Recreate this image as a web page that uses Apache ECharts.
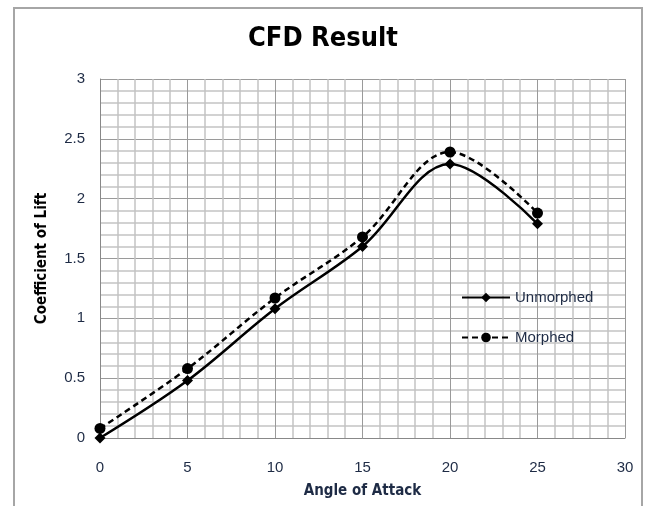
<!DOCTYPE html>
<html>
<head>
<meta charset="utf-8">
<script src="https://cdn.jsdelivr.net/npm/echarts@6/dist/echarts.min.js"></script>
<style>
  html, body { margin: 0; padding: 0; background: #fff; }
  #chart { width: 646px; height: 506px; }
</style>
</head>
<body>
<div id="chart"></div>
<script>
const angles = [0, 5, 10, 15, 20, 25]
const unmorphed = [0, 0.48, 1.08, 1.6, 2.29, 1.79]
const morphed = [0.08, 0.58, 1.17, 1.68, 2.39, 1.88]

const font = '"Liberation Sans Narrow", "Liberation Sans", sans-serif'
const condensed = '"DejaVu Sans Condensed", "Liberation Sans Narrow", sans-serif'
const labelColor = '#1e2b45'

const chart = echarts.init(document.getElementById('chart'))

chart.setOption({
  animation: false,
  textStyle: { fontFamily: font },
  title: {
    text: 'CFD Result',
    left: 'center',
    top: 20,
    textStyle: { fontSize: 27, fontWeight: 'bold', color: '#000', fontFamily: condensed }
  },
  graphic: [
    {
      type: 'polyline',
      shape: { points: [[14, 506], [14, 8], [642, 8], [642, 506]] },
      style: { stroke: '#a6a6a6', lineWidth: 2, fill: null },
      silent: true
    }
  ],
  grid: { left: 100, right: 21, top: 79, bottom: 68 },
  legend: {
    orient: 'vertical',
    left: 456,
    top: 285,
    itemGap: 25,
    itemWidth: 48,
    itemHeight: 12,
    textStyle: { fontSize: 15, color: labelColor, fontFamily: font },
    data: ['Unmorphed', 'Morphed']
  },
  xAxis: {
    type: 'value',
    min: 0,
    max: 30,
    interval: 5,
    name: 'Angle of Attack',
    nameLocation: 'middle',
    nameGap: 46,
    nameTextStyle: { fontSize: 15, fontWeight: 'bold', color: labelColor, fontFamily: condensed },
    axisLine: { show: true, lineStyle: { color: '#888', width: 1 } },
    axisTick: { show: false },
    axisLabel: { fontSize: 15, color: labelColor, margin: 22 },
    splitLine: { show: true, lineStyle: { color: '#9a9a9a', width: 1 } },
    minorTick: { show: false, splitNumber: 5 },
    minorSplitLine: { show: true, lineStyle: { color: '#c4c4c4', width: 1.5 } }
  },
  yAxis: {
    type: 'value',
    min: 0,
    max: 3,
    interval: 0.5,
    name: 'Coefficient of Lift',
    nameLocation: 'middle',
    nameGap: 50,
    nameTextStyle: { fontSize: 15, fontWeight: 'bold', color: '#000', fontFamily: condensed },
    axisLine: { show: true, lineStyle: { color: '#888', width: 1 } },
    axisTick: { show: false },
    axisLabel: { fontSize: 15, color: labelColor, margin: 15 },
    splitLine: { show: true, lineStyle: { color: '#9a9a9a', width: 1 } },
    minorTick: { show: false, splitNumber: 5 },
    minorSplitLine: { show: true, lineStyle: { color: '#c4c4c4', width: 1.5 } }
  },
  series: [
    {
      name: 'Unmorphed',
      type: 'line',
      smooth: 0.35,
      data: angles.map((a, i) => [a, unmorphed[i]]),
      symbol: 'diamond',
      symbolSize: 11,
      lineStyle: { color: '#000', width: 2.5, type: 'solid' },
      itemStyle: { color: '#000' }
    },
    {
      name: 'Morphed',
      type: 'line',
      smooth: 0.35,
      data: angles.map((a, i) => [a, morphed[i]]),
      symbol: 'circle',
      symbolSize: 11,
      lineStyle: { color: '#000', width: 2.5, type: [6, 4] },
      itemStyle: { color: '#000' }
    }
  ]
})
</script>
</body>
</html>
